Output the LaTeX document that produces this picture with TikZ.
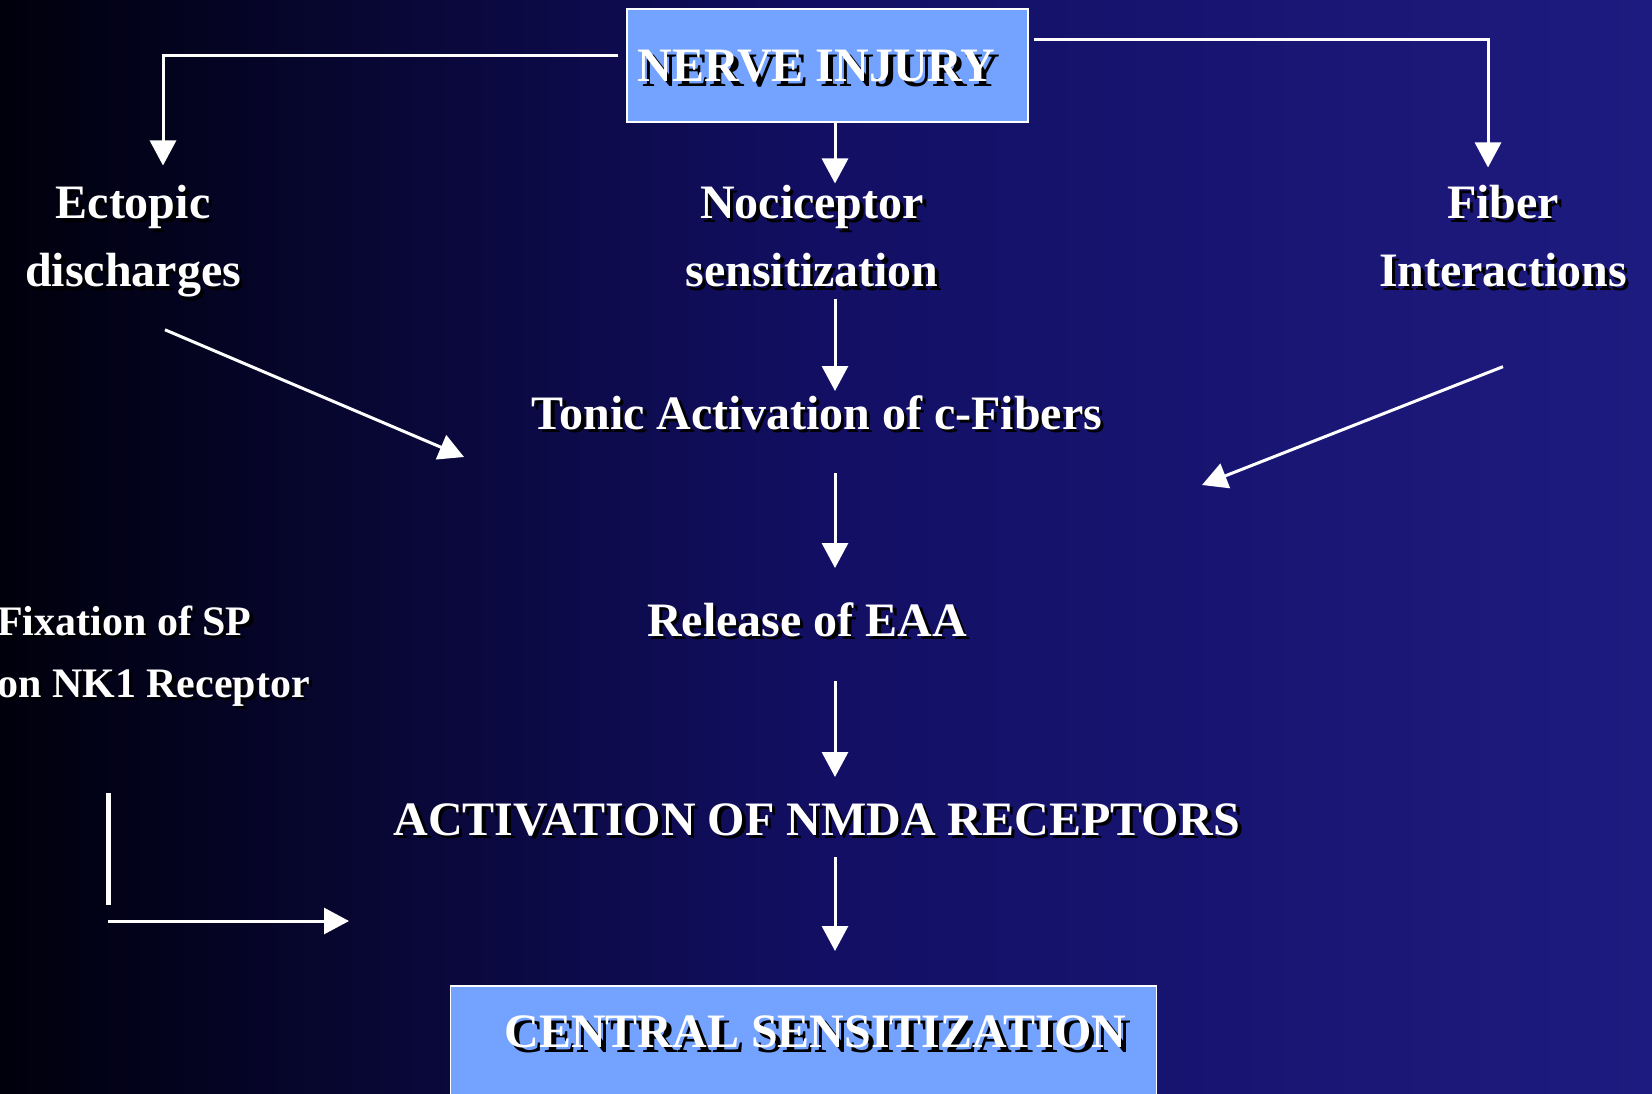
\documentclass[tikz,border=0pt]{standalone}
\usepackage{fontspec}
\setmainfont{Liberation Serif}
\usetikzlibrary{arrows.meta}
\definecolor{bgleft}{RGB}{0,0,12}
\definecolor{bgmid}{RGB}{18,15,100}
\definecolor{bgright}{RGB}{30,27,128}
\definecolor{boxblue}{RGB}{115,162,255}
% white text with a black drop shadow
\newcommand{\shd}[2][3.5pt]{\rlap{\kern#1\raisebox{-#1}{\textcolor{black}{#2}}}#2}

\begin{document}
\begin{tikzpicture}[x=1pt, y=-1pt,
  lbl/.style={text=white, inner sep=0pt, align=center, font=\bfseries\fontsize{48}{68}\selectfont},
  side/.style={text=white, inner sep=0pt, align=left, font=\bfseries\fontsize{42}{62}\selectfont},
  box/.style={draw=white, line width=1.5pt, fill=boxblue, text=white, inner sep=0pt,
    font=\bfseries\fontsize{48}{58}\selectfont},
  arr/.style={draw=white, line width=3pt, -{Triangle[width=26pt, length=25pt]}},
  bar/.style={draw=white, line width=5pt}]
  \useasboundingbox (0,0) rectangle (1652,1094);
  \clip (0,0) rectangle (1652,1094);
  % background
  \shade[left color=bgleft, right color=bgmid] (0,0) rectangle (826,1094);
  \shade[left color=bgmid, right color=bgright] (825,0) rectangle (1652,1094);
  % column of the middle arrows, loose arrow ends
  \coordinate (col) at (835,0);
  \coordinate (ectEnd) at (464,457);
  \coordinate (fibEnd) at (1202,485);
  \coordinate (spTop) at (108,793); \coordinate (spFoot) at (108,905);
  \coordinate (spOut) at (108,921); \coordinate (spEnd) at (349,921);
  % boxes
  \node[box, minimum width=401pt, minimum height=113pt, text height=33pt, text depth=0pt]
    (injury) at (827.5,65.5) {\shd[5pt]{NERVE INJURY}\hspace*{22pt}};
  \node[box, minimum width=706pt, minimum height=130pt, text height=33pt, text depth=40pt, anchor=north]
    (cent) at (803.5,985) {\hspace*{24pt}\shd[5pt]{CENTRAL SENSITIZATION}};
  % labels (base = last line)
  \node[lbl, anchor=base] (ect) at (133,287) {\shd{Ectopic}\\\shd{discharges}};
  \node[lbl, anchor=base] (noc) at (812,287) {\shd{Nociceptor}\\\shd{sensitization}};
  \node[lbl, anchor=base] (fib) at (1503,287) {\shd{Fiber}\\\shd{Interactions}};
  \node[lbl, anchor=base] (tonic) at (817,429) {\shd{Tonic Activation of c-Fibers}};
  \node[lbl, anchor=base] (rel) at (807,636) {\shd{Release of EAA}};
  \node[lbl, anchor=base] (nmda) at (817,835) {\shd{ACTIVATION OF NMDA RECEPTORS}};
  \node[side, anchor=base west] (fix) at (-3,697) {\shd{Fixation of SP}\\\shd{on NK1 Receptor}};
  % connectors
  \draw[arr, shorten >=20pt] ([shift={(-8,-9.5)}]injury.west) -| ([xshift=30pt]ect.north);
  \draw[arr, shorten >=18pt] ([shift={(5,-25.5)}]injury.east) -| ([xshift=-15pt]fib.north);
  \draw[arr, shorten >=2pt] (injury.south -| col) -- (noc.north -| col);
  \draw[arr, shorten <=7.5pt, shorten >=4pt] (noc.south -| col) -- (tonic.north -| col);
  \draw[arr, shorten <=40pt, shorten >=34pt] (tonic.south -| col) -- (rel.north -| col);
  \draw[arr, shorten <=41pt, shorten >=26pt] (rel.south -| col) -- (nmda.north -| col);
  \draw[arr, shorten <=18pt, shorten >=34pt] (nmda.south -| col) -- (cent.north -| col);
  \draw[arr] ([shift={(32,28.5)}]ect.south) -- (ectEnd);
  \draw[arr] ([shift={(0,75.5)}]fib.south) -- (fibEnd);
  \draw[bar] (spTop) -- (spFoot);
  \draw[arr] (spOut) -- (spEnd);
\end{tikzpicture}
\end{document}
